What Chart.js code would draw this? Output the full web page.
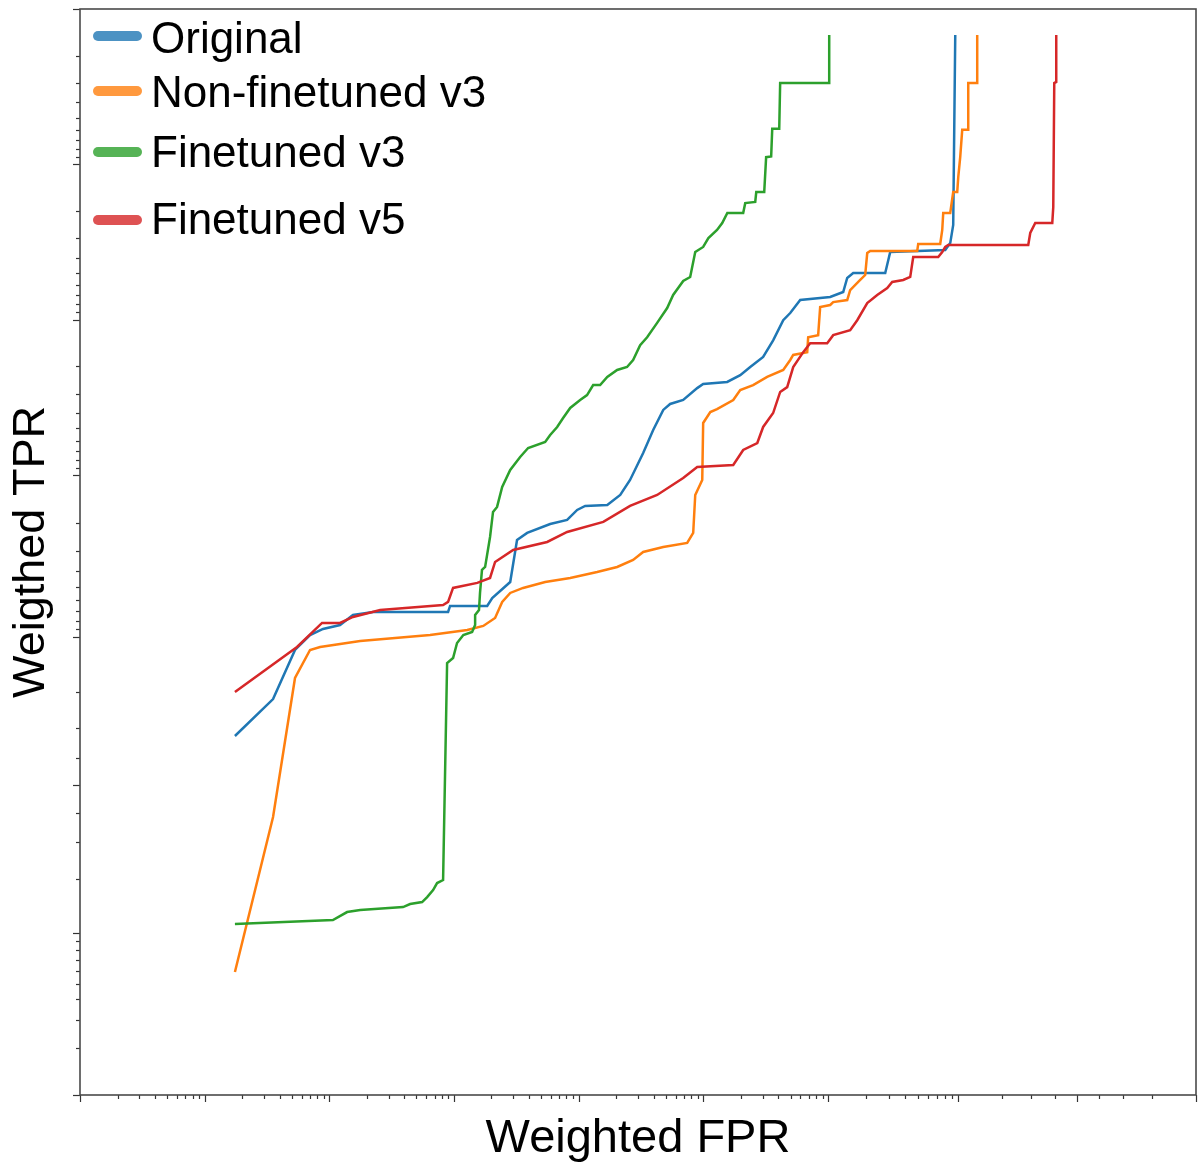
<!DOCTYPE html>
<html>
<head>
<meta charset="utf-8">
<script src="https://cdn.jsdelivr.net/npm/chart.js@4.4.1/dist/chart.umd.min.js"></script>
<style>
  html, body { margin: 0; padding: 0; background: #fff; }
  #caixa { width: 1199px; height: 1165px; }
</style>
</head>
<body>
<div id="caixa"><canvas id="grafico_roc"></canvas></div>
<script>
// Dados (FPR e TPR ponderados)
const rotulos = ["Original", "Non-finetuned v3", "Finetuned v3", "Finetuned v5"];

const fpr_original = [1.75e-7, 3.54e-7, 5.31e-7, 7.01e-7, 8.91e-7, 1.22e-6, 1.55e-6, 2.25e-6, 8.98e-6, 9.32e-6,
  1.85e-5, 2.03e-5, 2.83e-5, 3.21e-5, 3.87e-5, 5.92e-5, 8.10e-5, 9.75e-5, 1.13e-4, 1.70e-4,
  2.16e-4, 2.59e-4, 3.30e-4, 3.97e-4, 4.78e-4, 5.43e-4, 6.91e-4, 8.95e-4, 9.99e-4, 1.556e-3,
  1.98e-3, 2.38e-3, 3.02e-3, 3.63e-3, 4.37e-3, 4.97e-3, 5.97e-3, 0.01034, 0.01312, 0.01411,
  0.01574, 0.02808, 0.03071, 0.0805, 0.0876, 0.0921, 0.0953];
const tpr_original = [0.6748, 0.7821, 0.8814, 0.9027, 0.9103, 0.9150, 0.9259, 0.9289, 0.9289, 0.9346,
  0.9346, 0.9414, 0.9532, 0.97436, 0.97683, 0.97966, 0.98081, 0.98342, 0.98436, 0.98459,
  0.98668, 0.98931, 0.99281, 0.99487, 0.99619, 0.99651, 0.99671, 0.99724, 0.99740, 0.99748,
  0.99772, 0.99798, 0.99826, 0.99864, 0.99899, 0.999092, 0.999251, 0.999284, 0.999335, 0.99946,
  0.999498, 0.999498, 0.999633, 0.999643, 0.999678, 0.999754, 0.9999853];

const fpr_nao_finetuned_v3 = [1.75e-7, 3.54e-7, 5.31e-7, 7.01e-7, 8.44e-7, 1.77e-6, 6.44e-6, 1.28e-5, 1.72e-5, 2.14e-5,
  2.44e-5, 2.83e-5, 3.59e-5, 5.40e-5, 8.57e-5, 1.41e-4, 2.04e-4, 2.74e-4, 3.30e-4, 4.78e-4,
  7.44e-4, 8.31e-4, 8.63e-4, 9.82e-4, 9.99e-4, 1.14e-3, 1.29e-3, 1.74e-3, 1.98e-3, 2.51e-3,
  3.25e-3, 4.37e-3, 4.97e-3, 5.25e-3, 6.79e-3, 6.91e-3, 8.30e-3, 8.61e-3, 0.01034, 0.01093,
  0.01411, 0.01489, 0.01787, 0.01956, 0.0203, 0.02142, 0.0496, 0.05046, 0.0739, 0.0765,
  0.0778, 0.0876, 0.0921, 0.0985, 0.1002, 0.1035, 0.1070, 0.1181, 0.1181, 0.1365, 0.1365];
const tpr_nao_finetuned_v3 = [0.0589, 0.3842, 0.8306, 0.8814, 0.8859, 0.8946, 0.9027, 0.9091, 0.9139, 0.9228,
  0.9381, 0.9454, 0.9491, 0.9532, 0.9558, 0.9594, 0.9622, 0.9658, 0.9695, 0.97163,
  0.97323, 0.97683, 0.98668, 0.98931, 0.99538, 0.99607, 0.99624, 0.99671, 0.99716, 0.99736,
  0.99766, 0.99789, 0.99818, 0.99831, 0.99838, 0.99870, 0.99874, 0.999170, 0.999194, 0.999228,
  0.999251, 0.999354, 0.999444, 0.999483, 0.999627, 0.999638, 0.999638, 0.999674, 0.999674, 0.999735,
  0.999794, 0.999794, 0.999849, 0.999849, 0.999879, 0.999910, 0.999940, 0.999940, 0.999970, 0.999970, 0.9999853];

const fpr_finetuned_v3 = [1.75e-7, 1.07e-6, 1.39e-6, 1.77e-6, 3.91e-6, 4.45e-6, 5.56e-6, 6.10e-6, 6.81e-6, 7.33e-6,
  8.19e-6, 8.82e-6, 9.85e-6, 1.06e-5, 1.19e-5, 1.40e-5, 1.48e-5, 1.48e-5, 1.59e-5, 1.62e-5,
  1.68e-5, 1.78e-5, 1.95e-5, 2.06e-5, 2.22e-5, 2.44e-5, 2.83e-5, 3.40e-5, 3.94e-5, 5.40e-5,
  5.92e-5, 6.74e-5, 7.52e-5, 8.57e-5, 1.03e-4, 1.17e-4, 1.31e-4, 1.49e-4, 1.70e-4, 2.04e-4,
  2.45e-4, 2.74e-4, 3.12e-4, 3.55e-4, 4.27e-4, 5.14e-4, 5.74e-4, 6.91e-4, 7.86e-4, 8.63e-4,
  9.99e-4, 1.10e-3, 1.29e-3, 1.42e-3, 1.56e-3, 2.09e-3, 2.17e-3, 2.61e-3, 2.66e-3, 3.08e-3,
  3.19e-3, 3.50e-3, 3.57e-3, 4.06e-3, 4.13e-3, 0.01016, 0.01016];
const tpr_finetuned_v3 = [0.1131, 0.1192, 0.1322, 0.1356, 0.1409, 0.1464, 0.1502, 0.1599, 0.1744, 0.1898,
  0.1967, 0.8597, 0.8684, 0.8918, 0.9027, 0.9065, 0.9150, 0.9259, 0.9308, 0.9454,
  0.9606, 0.9622, 0.97544, 0.98292, 0.98413, 0.98814, 0.99076, 0.99237, 0.99332, 0.99388,
  0.99448, 0.99510, 0.99571, 0.99630, 0.99671, 0.99694, 0.99736, 0.99736, 0.99766, 0.99789,
  0.99798, 0.99818, 0.99854, 0.99870, 0.99895, 0.999157, 0.999305, 0.999435, 0.999468, 0.999633,
  0.999659, 0.999701, 0.999735, 0.999761, 0.999794, 0.999794, 0.999822, 0.999825, 0.999849, 0.999849,
  0.999910, 0.999911, 0.999941, 0.999941, 0.999970, 0.999970, 0.9999853];

const fpr_finetuned_v5 = [1.75e-7, 5.51e-7, 8.75e-7, 1.22e-6, 1.55e-6, 2.56e-6, 8.19e-6, 8.98e-6, 9.85e-6, 1.54e-5,
  1.95e-5, 2.14e-5, 2.99e-5, 5.60e-5, 8.10e-5, 1.58e-4, 2.59e-4, 4.27e-4, 6.91e-4, 8.95e-4,
  1.74e-3, 2.09e-3, 2.71e-3, 3.02e-3, 3.63e-3, 4.13e-3, 4.70e-3, 5.25e-3, 6.31e-3, 7.17e-3,
  9.79e-3, 0.01093, 0.01489, 0.01693, 0.0203, 0.02431, 0.02911, 0.03182, 0.03873, 0.04384,
  0.04622, 0.0714, 0.0765, 0.0805, 0.0847, 0.2887, 0.2963, 0.3159, 0.3874, 0.3918,
  0.3962, 0.4050, 0.4050];
const tpr_finetuned_v5 = [0.7994, 0.8859, 0.9173, 0.9173, 0.9238, 0.9308, 0.9354, 0.9381, 0.9491, 0.9526,
  0.9558, 0.9648, 0.97038, 0.97361, 0.97716, 0.98025, 0.98436, 0.98668, 0.98961, 0.99116,
  0.99142, 0.99312, 0.99379, 0.99510, 0.99601, 0.99708, 0.99728, 0.99798, 0.99838, 0.99858,
  0.99858, 0.99874, 0.99883, 0.99899, 0.999217, 0.999305, 0.999373, 0.999427, 0.999444, 0.999468,
  0.999604, 0.999604, 0.999633, 0.999659, 0.999669, 0.999669, 0.999723, 0.999761, 0.999761, 0.999811,
  0.999970, 0.9999705, 0.9999853];

// limites dos eixos (escala logit, como no matplotlib)
const limites_x = [1e-8, 0.9];
const limites_y = [0.01, 0.99999];

const cores = ["#1f77b4", "#ff7f0e", "#2ca02c", "#d62728"];

// ── Escala logit ──────────────────────────────────────────
const logOdds = p => Math.log10(p / (1 - p));

class EscalaLogit extends Chart.Scale {
    determineDataLimits() {
        this.min = this.options.min;
        this.max = this.options.max;
    }
    buildTicks() {
        const ticks = [];
        const add = (v, major) => {
            if (v >= this.min * 0.999999 && v <= this.max + 1e-12) ticks.push({ value: v, major: major });
        };
        for (let e = -10; e <= -1; e++) {
            const base = Math.pow(10, e);
            add(base, true);
            add(1 - base, true);
            if (e < -1) {
                for (let k = 2; k <= 9; k++) {
                    add(k * base, false);
                    add(1 - k * base, false);
                }
            }
        }
        add(0.5, true);
        [0.2, 0.3, 0.4, 0.6, 0.7, 0.8].forEach(v => add(v, false));
        return ticks.sort((a, b) => a.value - b.value);
    }
    getLabelForValue(v) { return String(v); }
    configure() {
        super.configure();
        this._ini = logOdds(this.min);
        this._fim = logOdds(this.max);
    }
    getPixelForValue(v) {
        return this.getPixelForDecimal((logOdds(v) - this._ini) / (this._fim - this._ini));
    }
    getValueForPixel(px) {
        const l = this._ini + this.getDecimalForPixel(px) * (this._fim - this._ini);
        const o = Math.pow(10, l);
        return o / (1 + o);
    }
}
EscalaLogit.id = "logit";
EscalaLogit.defaults = {};
Chart.register(EscalaLogit);

// moldura + marcas dos eixos (maiores e menores)
const molduraPlugin = {
    id: "moldura",
    afterDraw(chart) {
        const ctx = chart.ctx;
        const a = chart.chartArea;
        ctx.save();
        ctx.strokeStyle = "#333";
        ctx.lineWidth = 1.2;
        chart.scales.x.ticks.forEach(t => {
            const px = Math.round(chart.scales.x.getPixelForValue(t.value)) + 0.5;
            ctx.beginPath();
            ctx.moveTo(px, a.bottom);
            ctx.lineTo(px, a.bottom + (t.major ? 7 : 4));
            ctx.stroke();
        });
        chart.scales.y.ticks.forEach(t => {
            const py = Math.round(chart.scales.y.getPixelForValue(t.value)) + 0.5;
            ctx.beginPath();
            ctx.moveTo(a.left, py);
            ctx.lineTo(a.left - (t.major ? 7 : 4), py);
            ctx.stroke();
        });
        ctx.strokeStyle = "#4a4a4a";
        ctx.lineWidth = 1.6;
        ctx.strokeRect(a.left, a.top, a.right - a.left, a.bottom - a.top);
        ctx.restore();
    }
};

// legenda desenhada à mão (espaçamento irregular como na figura)
const legendaPlugin = {
    id: "legendaManual",
    afterDraw(chart) {
        const ctx = chart.ctx;
        const centros = [36, 91, 152, 220];
        const bases = [53, 107, 167, 234];
        ctx.save();
        chart.data.datasets.forEach((ds, i) => {
            ctx.globalAlpha = 0.8;
            ctx.strokeStyle = ds.borderColor;
            ctx.lineWidth = 10;
            ctx.lineCap = "round";
            ctx.beginPath();
            ctx.moveTo(98, centros[i]);
            ctx.lineTo(137, centros[i]);
            ctx.stroke();
            ctx.globalAlpha = 1;
            ctx.fillStyle = "#000";
            ctx.font = "44px 'Liberation Sans', Arial, sans-serif";
            ctx.textBaseline = "alphabetic";
            ctx.fillText(ds.label, 151, bases[i]);
        });
        ctx.restore();
    }
};

function criarDataset(label, fpr, tpr, cor, ordem) {
    return {
        label: label,
        data: fpr.map((x, i) => ({ x: x, y: tpr[i] })),
        borderColor: cor,
        backgroundColor: cor,
        borderWidth: 2.5,
        pointRadius: 0,
        tension: 0,
        fill: false,
        order: ordem
    };
}

const ctx = document.getElementById("grafico_roc").getContext("2d");
new Chart(ctx, {
    type: "line",
    data: {
        datasets: [
            criarDataset(rotulos[0], fpr_original, tpr_original, cores[0], 4),
            criarDataset(rotulos[1], fpr_nao_finetuned_v3, tpr_nao_finetuned_v3, cores[1], 3),
            criarDataset(rotulos[2], fpr_finetuned_v3, tpr_finetuned_v3, cores[2], 2),
            criarDataset(rotulos[3], fpr_finetuned_v5, tpr_finetuned_v5, cores[3], 1)
        ]
    },
    options: {
        responsive: true,
        maintainAspectRatio: false,
        animation: false,
        devicePixelRatio: 1,
        layout: { padding: { top: 9, right: 3, left: 0, bottom: 0 } },
        plugins: { legend: { display: false }, tooltip: { enabled: false } },
        scales: {
            x: {
                type: "logit",
                position: "bottom",
                min: limites_x[0],
                max: limites_x[1],
                grid: { display: false },
                border: { display: false },
                ticks: { display: false },
                title: {
                    display: true,
                    text: "Weighted FPR",
                    color: "#000",
                    font: { family: "'Liberation Sans', Arial, sans-serif", size: 47, lineHeight: 1 },
                    padding: { top: 0, bottom: 2 }
                },
                afterFit: s => { s.height = 70; }
            },
            y: {
                type: "logit",
                position: "left",
                min: limites_y[0],
                max: limites_y[1],
                grid: { display: false },
                border: { display: false },
                ticks: { display: false },
                title: {
                    display: true,
                    text: "Weigthed TPR",
                    color: "#000",
                    font: { family: "'Liberation Sans', Arial, sans-serif", size: 45, lineHeight: 1 },
                    padding: { top: 9, bottom: 0 }
                },
                afterFit: s => { s.width = 80; }
            }
        }
    },
    plugins: [molduraPlugin, legendaPlugin]
});
</script>
</body>
</html>
